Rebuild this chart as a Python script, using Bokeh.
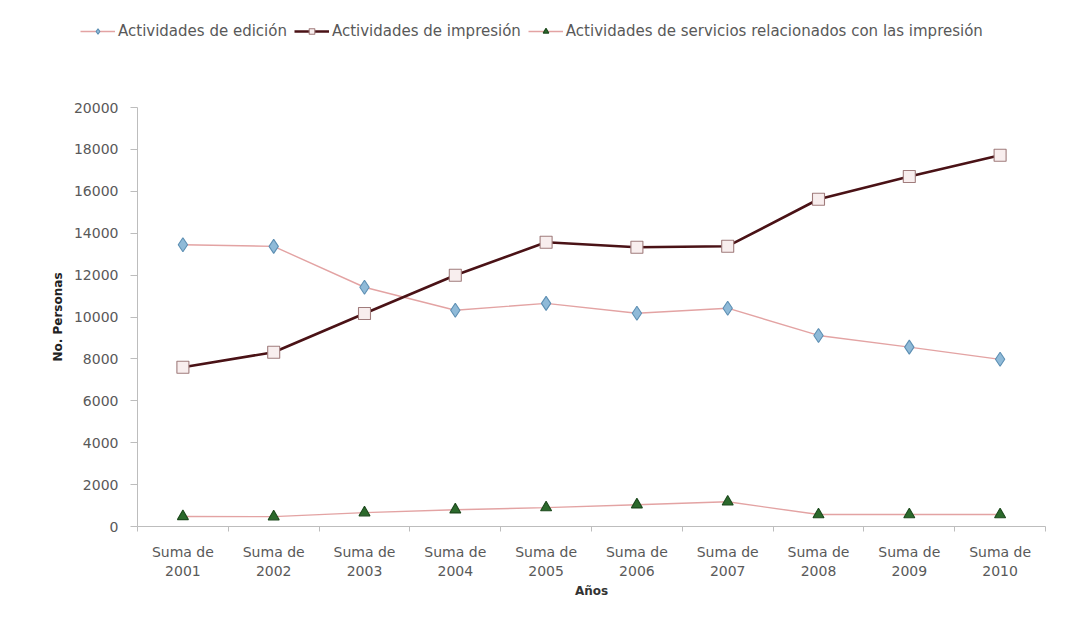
from bokeh.plotting import figure
from bokeh.layouts import column, row
from bokeh.models import FixedTicker, Legend, LegendItem, Range1d
from bokeh.embed import file_html
from bokeh.resources import INLINE

# Personas ocupadas por actividad, 2001-2010
years = ["2001", "2002", "2003", "2004", "2005", "2006", "2007", "2008", "2009", "2010"]
cat_labels = ["Suma de\n" + y for y in years]
edicion = [13450, 13370, 11420, 10320, 10650, 10180, 10420, 9120, 8560, 7980]
impresion = [7600, 8320, 10170, 11990, 13570, 13330, 13380, 15620, 16710, 17720]
servicios = [480, 470, 660, 800, 900, 1040, 1180, 570, 570, 570]
y_ticks = list(range(0, 20001, 2000))
series_names = [
    "Actividades de edición",
    "Actividades de impresión",
    "Actividades de servicios relacionados con las impresión",
]

FONT = "DejaVu Sans"
GREY = "#595959"
PINK = "#e3a3a3"

# per-series styles: (line colour, line width, marker, size, fill, outline)
styles = [
    (PINK, 1.4, "diamond", 14, "#8fbad8", "#5d8fb3"),
    ("#4a1216", 2.6, "square", 12, "#f8eeee", "#a07c7c"),
    (PINK, 1.4, "triangle", 11, "#2c6a2c", "#1d4a1d"),
]

xs = list(range(len(years)))
W = 1068
LEFT = 137
LEG_H = 60
MAIN_H = 637 - LEG_H

p = figure(width=W, height=MAIN_H, output_backend="svg", toolbar_location=None,
           x_range=Range1d(-0.5, len(years) - 0.5), y_range=Range1d(0, 20000),
           min_border_left=LEFT, min_border_right=23,
           min_border_top=107 - LEG_H, min_border_bottom=111)
p.xgrid.visible = False
p.ygrid.visible = False
p.outline_line_color = None

for vals, (lc, lw, mk, sz, fc, oc) in zip([edicion, impresion, servicios], styles):
    p.line(xs, vals, line_color=lc, line_width=lw)
    p.scatter(xs, vals, marker=mk, size=sz, fill_color=fc, line_color=oc, line_width=1.1)

# x axis: labels at category centres, tick marks between categories
xa = p.xaxis[0]
xa.ticker = FixedTicker(ticks=xs, minor_ticks=[i - 0.5 for i in range(len(years) + 1)])
xa.major_label_overrides = {i: lab for i, lab in zip(xs, cat_labels)}
xa.major_tick_out = 0
xa.major_tick_in = 0
xa.minor_tick_out = 5
xa.minor_tick_in = 0
xa.minor_tick_line_color = "#bdbdbd"
xa.axis_line_color = "#bdbdbd"
xa.major_label_text_font = FONT
xa.major_label_text_font_size = "14px"
xa.major_label_text_color = GREY
xa.major_label_standoff = 12
xa.axis_label = "Años"
xa.axis_label_text_font = FONT
xa.axis_label_text_font_size = "12px"
xa.axis_label_text_font_style = "bold"
xa.axis_label_text_color = "#333333"
xa.axis_label_standoff = 2

# y axis
ya = p.yaxis[0]
ya.ticker = FixedTicker(ticks=y_ticks)
ya.major_tick_out = 7
ya.major_tick_in = 0
ya.minor_tick_out = 0
ya.minor_tick_in = 0
ya.major_tick_line_color = "#bdbdbd"
ya.axis_line_color = "#bdbdbd"
ya.major_label_text_font = FONT
ya.major_label_text_font_size = "14px"
ya.major_label_text_color = GREY
ya.major_label_standoff = 12
ya.axis_label = "No. Personas"
ya.axis_label_text_font = FONT
ya.axis_label_text_font_size = "12px"
ya.axis_label_text_font_style = "bold"
ya.axis_label_text_color = "#222222"
ya.axis_label_standoff = 6

# legend strip across the top; its glyph renderers sit outside the visible range
lg = figure(width=W, height=LEG_H, output_backend="svg", toolbar_location=None,
            x_range=Range1d(0, 1), y_range=Range1d(0, 1),
            min_border_left=0, min_border_right=0,
            min_border_top=0, min_border_bottom=0)
lg.axis.visible = False
lg.grid.visible = False
lg.outline_line_color = None
items = []
for name, (lc, lw, mk, sz, fc, oc) in zip(series_names, styles):
    r1 = lg.line([-5, -4], [-5, -5], line_color=lc, line_width=lw)
    r2 = lg.scatter([-5], [-5], marker=mk, size=sz - 2, fill_color=fc, line_color=oc, line_width=1.1)
    items.append(LegendItem(label=name, renderers=[r1, r2]))
legend = Legend(items=items, orientation="horizontal", location=(80, 20))
legend.padding = 0
legend.margin = 0
legend.spacing = 7
legend.glyph_width = 35
legend.glyph_height = 14
legend.label_standoff = 3
legend.label_text_font = FONT
legend.label_text_font_size = "15px"
legend.label_text_color = GREY
legend.background_fill_alpha = 0
legend.border_line_alpha = 0
lg.add_layout(legend)

layout = column(row(lg), p, spacing=0)
open("out.html", "w").write(file_html(layout, INLINE))
